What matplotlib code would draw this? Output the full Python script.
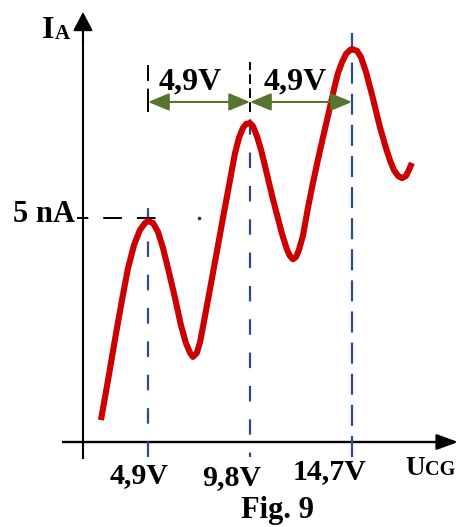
import matplotlib
matplotlib.use("Agg")
import matplotlib.pyplot as plt

# ---------------- data ----------------
# anode current I_A (nA) versus accelerating voltage U_CG (V)
curve_u = [2.64, 2.98, 3.31, 3.65, 3.94, 4.23, 4.51, 4.76, 4.90,
           5.14, 5.38, 5.62, 5.86, 6.20, 6.48, 6.72, 6.92, 7.06,
           7.25, 7.40, 7.54, 7.88, 8.21, 8.50, 8.74, 9.08, 9.27, 9.46, 9.61, 9.80,
           9.94, 10.13, 10.33, 10.52, 10.90, 11.34, 11.58, 11.72, 11.86,
           12.01, 12.15, 12.34, 12.58, 12.82, 13.02, 13.21, 13.40, 13.59, 13.74,
           13.88, 14.03, 14.22, 14.41, 14.60, 14.70,
           14.94, 15.13, 15.37, 15.66, 16.04, 16.33, 16.52, 16.71, 16.91, 17.10,
           17.29, 17.43, 17.58]
curve_i = [0.49, 1.38, 2.28, 3.17, 3.88, 4.40, 4.73, 4.89, 4.93,
           4.89, 4.69, 4.33, 3.88, 3.21, 2.61, 2.21, 1.99, 1.90,
           1.99, 2.23, 2.57, 3.42, 4.26, 5.00, 5.60, 6.45, 6.79, 7.01, 7.10, 7.12,
           7.05, 6.83, 6.52, 6.16, 5.42, 4.64, 4.29, 4.15, 4.08,
           4.13, 4.29, 4.60, 5.22, 5.78, 6.21, 6.61, 6.99, 7.37, 7.68,
           7.97, 8.24, 8.48, 8.66, 8.75, 8.77,
           8.73, 8.59, 8.26, 7.75, 7.03, 6.56, 6.29, 6.07, 5.94, 5.89,
           5.94, 6.07, 6.23]

peak_u = [4.9, 9.8, 14.7]            # voltages of the current maxima
tick_labels = ["4,9V", "9,8V", "14,7V"]
spacing_labels = ["4,9V", "4,9V"]
i_ref = 5.0                          # nA, first maximum
i_ref_label = "5 nA"

# ---------------- layout / style ----------------
RED = "#cc0000"
BLUE = "#2d4a8c"
GREEN = "#58752f"
FONT = dict(family="Liberation Serif", weight="bold", color="black")

fig = plt.figure(figsize=(4.62, 5.27), dpi=100)
ax = fig.add_axes([0, 0, 1, 1])
ax.set_xlim(-2.209, 19.981)
ax.set_ylim(-1.897, 9.866)
ax.axis("off")

# axes with arrow heads
y_axis_u = 1.777
ax.plot([y_axis_u, y_axis_u], [-0.38, 9.0], color="black", lw=1.5, solid_capstyle="butt")
ax.annotate("", xy=(y_axis_u, 9.60), xytext=(y_axis_u, 8.9),
            arrowprops=dict(arrowstyle="-|>,head_length=11.5,head_width=6.0",
                            mutation_scale=1, color="black", lw=1.5,
                            shrinkA=0, shrinkB=0))
ax.plot([0.77, 19.2], [0, 0], color="black", lw=1.7, solid_capstyle="butt")
ax.annotate("", xy=(19.79, 0), xytext=(19.0, 0),
            arrowprops=dict(arrowstyle="-|>,head_length=13,head_width=4.8",
                            mutation_scale=1, color="black", lw=1.7,
                            shrinkA=0, shrinkB=0))

# vertical dashed guide lines at the maxima (blue part)
blue_tops = [5.36, 7.30, 9.13]
blue_dash = [(0, (7.0, 8.0)), (5.0, (7.0, 8.0)), (0, (9.5, 4.5))]
for u, top, ls in zip(peak_u, blue_tops, blue_dash):
    ax.plot([u, u], [-0.34, top], color=BLUE, lw=1.6, linestyle=ls)

# black dashed pieces above the first two maxima
ax.plot([peak_u[0]] * 2, [7.37, 8.42], color="black", lw=1.4, linestyle=(0, (12, 4)))
ax.plot([peak_u[1]] * 2, [7.37, 8.48], color="black", lw=1.4, linestyle=(0, (5, 2.2)))

# horizontal dashed line at 5 nA
ax.plot([1.49, 5.62], [i_ref, i_ref], color="black", lw=1.4,
        linestyle=(3.8, (9.6, 7.7)), solid_capstyle="butt")
ax.plot([7.35], [i_ref], marker="o", ms=1.6, color="#333333", lw=0)

# the red current curve
ax.plot(curve_u, curve_i, color=RED, lw=4.4, solid_joinstyle="round",
        solid_capstyle="butt", zorder=5)

# green double arrows showing the 4,9 V spacing
arrow_i = 7.59
for a, b in zip(peak_u[:-1], peak_u[1:]):
    ax.annotate("", xy=(b, arrow_i), xytext=(a, arrow_i),
                arrowprops=dict(arrowstyle="<|-|>,head_length=13,head_width=5.4",
                                mutation_scale=1, color=GREEN, lw=1.5,
                                shrinkA=0, shrinkB=0), zorder=6)

# spacing labels
for x, s in zip([6.92, 11.96], spacing_labels):
    ax.text(x, 7.86, s, ha="center", va="baseline", fontsize=23, **FONT)

# x tick labels
for x, y, s in zip([4.47, 8.93, 13.64], [-0.915, -0.96, -0.826], tick_labels):
    ax.text(x, y, s, ha="center", va="baseline", fontsize=21.5, **FONT)

# axis titles
ax.text(17.24, -0.737, "U", ha="left", va="baseline", fontsize=19.5, **FONT)
ax.text(18.20, -0.737, "CG", ha="left", va="baseline", fontsize=14.5, **FONT)
ax.text(-0.19, 9.018, "I", ha="left", va="baseline", fontsize=23, **FONT)
ax.text(0.43, 8.996, "A", ha="left", va="baseline", fontsize=15, **FONT)

# 5 nA label
ax.text(1.39, 4.91, i_ref_label, ha="right", va="baseline", fontsize=22, **FONT)

# caption
ax.text(11.1, -1.696, "Fig. 9", ha="center", va="baseline", fontsize=22, **FONT)

fig.savefig("out.png", dpi=100, facecolor="white")
